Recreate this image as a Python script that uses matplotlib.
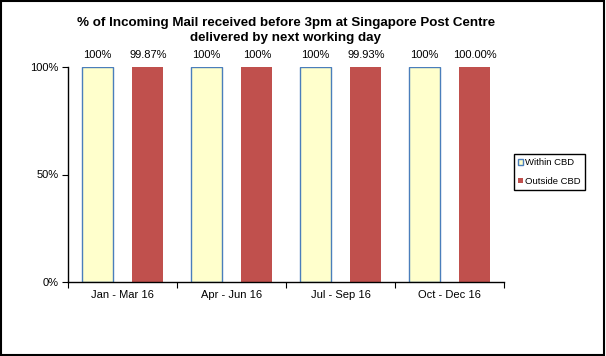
import numpy as np
import matplotlib
matplotlib.use("Agg")
import matplotlib.pyplot as plt
from matplotlib.patches import Rectangle, Patch
from matplotlib.ticker import FixedLocator, NullFormatter

plt.rcParams['font.family'] = ['Liberation Sans', 'DejaVu Sans']

# --- data ---
quarters = ['Jan - Mar 16', 'Apr - Jun 16', 'Jul - Sep 16', 'Oct - Dec 16']
within_cbd = [100, 100, 100, 100]
outside_cbd = [99.87, 100, 99.93, 100.00]
within_labels = ['100%', '100%', '100%', '100%']
outside_labels = ['99.87%', '100%', '99.93%', '100.00%']
y_ticks = [0, 50, 100]
y_ticklabels = ['0%', '50%', '100%']

c_within, c_within_edge, c_outside = '#FFFFCC', '#4A7EBB', '#C0504D'

fig = plt.figure(figsize=(6.06, 3.56), dpi=100)
fig.patch.set_facecolor('white')
ax = fig.add_axes([68 / 606, 1 - 282 / 356, 436 / 606, 215 / 356])

x = np.arange(len(quarters))
w = 0.285
off = 0.232
b1 = ax.bar(x - off, within_cbd, w, color=c_within, edgecolor=c_within_edge, linewidth=1.0)
b2 = ax.bar(x + off, outside_cbd, w, color=c_outside, edgecolor='none')

# value labels above the bars
for bars, labels in [(b1, within_labels), (b2, outside_labels)]:
    for bar, lab in zip(bars, labels):
        ax.annotate(lab, (bar.get_x() + bar.get_width() / 2, 100), xytext=(0, 8.5),
                    textcoords='offset points', ha='center', va='center', fontsize=8)

ax.set_xlim(-0.5, len(quarters) - 0.5)
ax.set_ylim(0, 100)

# category separators as major ticks, labels at centers
ax.xaxis.set_major_locator(FixedLocator(np.arange(len(quarters) + 1) - 0.5))
ax.xaxis.set_major_formatter(NullFormatter())
ax.set_xticks(x, minor=True)
ax.set_xticklabels(quarters, minor=True, fontsize=8)
ax.tick_params(axis='x', which='major', direction='out', length=4, width=0.8)
ax.tick_params(axis='x', which='minor', length=0, pad=6)

ax.set_yticks(y_ticks)
ax.set_yticklabels(y_ticklabels, fontsize=8)
ax.tick_params(axis='y', direction='out', length=4, width=0.8, pad=3)

for s in ['top', 'right']:
    ax.spines[s].set_visible(False)
for s in ['left', 'bottom']:
    ax.spines[s].set_linewidth(1.0)

fig.text(286 / 606, 1 - 23 / 356, '% of Incoming Mail received before 3pm at Singapore Post Centre',
         ha='center', va='center', fontsize=9.6, fontweight='bold')
fig.text(286 / 606, 1 - 38 / 356, 'delivered by next working day',
         ha='center', va='center', fontsize=9.6, fontweight='bold')

handles = [Patch(facecolor=c_within, edgecolor=c_within_edge, linewidth=1.0),
           Patch(facecolor=c_outside, edgecolor='none')]
leg = fig.legend(handles, ['Within CBD', 'Outside CBD'], loc='upper left',
                 bbox_to_anchor=(514 / 606, 1 - 154 / 356), fontsize=6.8,
                 frameon=True, fancybox=False, edgecolor='black', framealpha=1,
                 handlelength=0.55, handleheight=0.55, handletextpad=0.15,
                 borderpad=0.45, labelspacing=1.0, borderaxespad=0)
leg.get_frame().set_linewidth(1.0)

# outer chart border
fig.add_artist(Rectangle((0.002, 0.003), 0.995, 0.994, transform=fig.transFigure,
                         fill=False, edgecolor='black', linewidth=1.5))

fig.savefig('out.png', dpi=100)
